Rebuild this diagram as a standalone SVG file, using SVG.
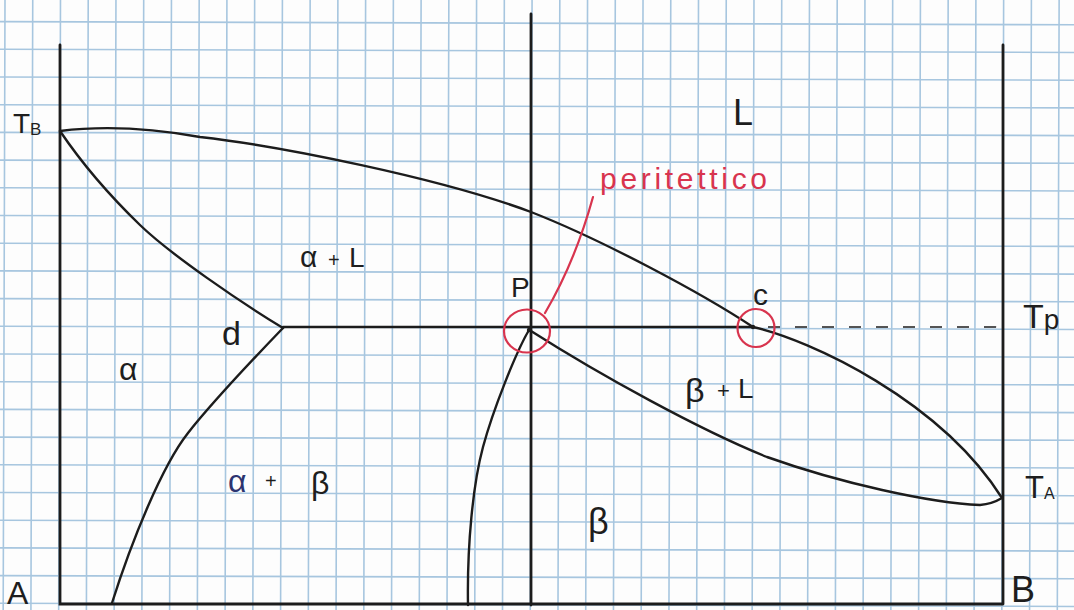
<svg xmlns="http://www.w3.org/2000/svg" width="1074" height="610" viewBox="0 0 1074 610">
<style>
.grid{stroke:#a7c6df;stroke-width:1.6;fill:none}
.ink{stroke:#1c1c1c;stroke-width:2.4;fill:none;stroke-linecap:round;stroke-linejoin:round}
.axis{stroke:#1c1c1c;stroke-width:2.8;fill:none;stroke-linecap:round}
.dash{stroke:#1c1c1c;stroke-width:1.6;fill:none;stroke-dasharray:12 15}
.red{stroke:#d8344e;stroke-width:2.2;fill:none;stroke-linecap:round}
.lbl{font-family:"Liberation Sans","DejaVu Sans",sans-serif;fill:#1e1e1e}
.redt{font-family:"Liberation Sans","DejaVu Sans",sans-serif;fill:#d8344e}
</style>
<rect x="0" y="0" width="1074" height="610" fill="#fdfdfd"/>
<g id="grid" transform="rotate(0.17)">
<path class="grid" d="M5,-20V640M32.74,-20V640M60.48,-20V640M88.22,-20V640M115.96,-20V640M143.7,-20V640M171.44,-20V640M199.18,-20V640M226.92,-20V640M254.66,-20V640M282.4,-20V640M310.14,-20V640M337.88,-20V640M365.62,-20V640M393.36,-20V640M421.1,-20V640M448.84,-20V640M476.58,-20V640M504.32,-20V640M532.06,-20V640M559.8,-20V640M587.54,-20V640M615.28,-20V640M643.02,-20V640M670.76,-20V640M698.5,-20V640M726.24,-20V640M753.98,-20V640M781.72,-20V640M809.46,-20V640M837.2,-20V640M864.94,-20V640M892.68,-20V640M920.42,-20V640M948.16,-20V640M975.9,-20V640M1003.64,-20V640M1031.38,-20V640M1059.12,-20V640"/>
<path class="grid" d="M-20,21.6H1100M-20,49.3H1100M-20,77H1100M-20,104.7H1100M-20,132.4H1100M-20,160.1H1100M-20,187.8H1100M-20,215.5H1100M-20,243.2H1100M-20,270.9H1100M-20,298.6H1100M-20,326.3H1100M-20,354H1100M-20,381.7H1100M-20,409.4H1100M-20,437.1H1100M-20,464.8H1100M-20,492.5H1100M-20,520.2H1100M-20,547.9H1100M-20,575.6H1100M-20,603.3H1100"/>
</g>
<g id="axes">
<path class="axis" d="M60,45V604H1003M1003,45V604M531,14V605"/>
</g>
<g id="connectors">
<path id="liquidus" class="ink" d="M60,131C100,126 150,128 200,137C280,146 440,178 531,212C600,239 700,292 753,327C810,340 940,400 1002,498"/>
<path id="beta-solidus" class="ink" d="M531,331C600,375 700,430 767,457C840,483 930,503 980,505Q992,504 1002,498"/>
<path id="alpha-liquidus" class="ink" d="M60,131C85,168 110,196 140,225S240,302 283,328"/>
<path id="alpha-solvus" class="ink" d="M283,328C258,354 214,400 188,433S132,540 112,603"/>
<path id="beta-solvus" class="ink" d="M529,330C516,352 493,410 483,447S467,545 468,605"/>
<path id="peritectic" class="ink" d="M283,327H753"/>
<path id="tp-dash" class="dash" d="M768,327H995Q999,327 1000,330"/>
<circle cx="529" cy="330" r="2.2" fill="#1c1c1c"/>
<circle cx="753" cy="327" r="2.2" fill="#1c1c1c"/>
</g>
<g id="annotation">
<ellipse class="red" cx="527" cy="331" rx="23" ry="21.5"/>
<ellipse class="red" cx="756" cy="328" rx="18.5" ry="19"/>
<path class="red" d="M545,313Q575,262 593,197"/>
<text class="redt" x="600" y="189" font-size="30" textLength="167" lengthAdjust="spacing">peritettico</text>
</g>
<g id="labels">
<text class="lbl" x="13" y="133" font-size="28">T<tspan font-size="17" dy="2">B</tspan></text>
<text class="lbl" x="733" y="125" font-size="36">L</text>
<text class="lbl" x="300" y="267" font-size="30">α</text>
<text class="lbl" x="328" y="267" font-size="20">+</text>
<text class="lbl" x="349" y="267" font-size="28">L</text>
<text class="lbl" x="511" y="297" font-size="28">P</text>
<text class="lbl" x="753" y="305" font-size="30">c</text>
<text class="lbl" x="1023" y="328" font-size="34">T<tspan font-size="28" dy="1">p</tspan></text>
<text class="lbl" x="222" y="345" font-size="34">d</text>
<text class="lbl" x="119" y="380" font-size="32">α</text>
<text class="lbl" x="685" y="402" font-size="34">β</text>
<text class="lbl" x="717" y="398" font-size="22">+</text>
<text class="lbl" x="738" y="398" font-size="28">L</text>
<text x="228" y="492" font-size="32" font-family="Liberation Sans, DejaVu Sans, sans-serif" fill="#2c3470">α</text>
<text class="lbl" x="265" y="488" font-size="20">+</text>
<text class="lbl" x="311" y="494" font-size="32">β</text>
<text class="lbl" x="1025" y="498" font-size="31">T<tspan font-size="16" dy="1">A</tspan></text>
<text class="lbl" x="588" y="534" font-size="36">β</text>
<text class="lbl" x="7" y="604" font-size="32">A</text>
<text class="lbl" x="1011" y="602" font-size="36">B</text>
</g>
</svg>
